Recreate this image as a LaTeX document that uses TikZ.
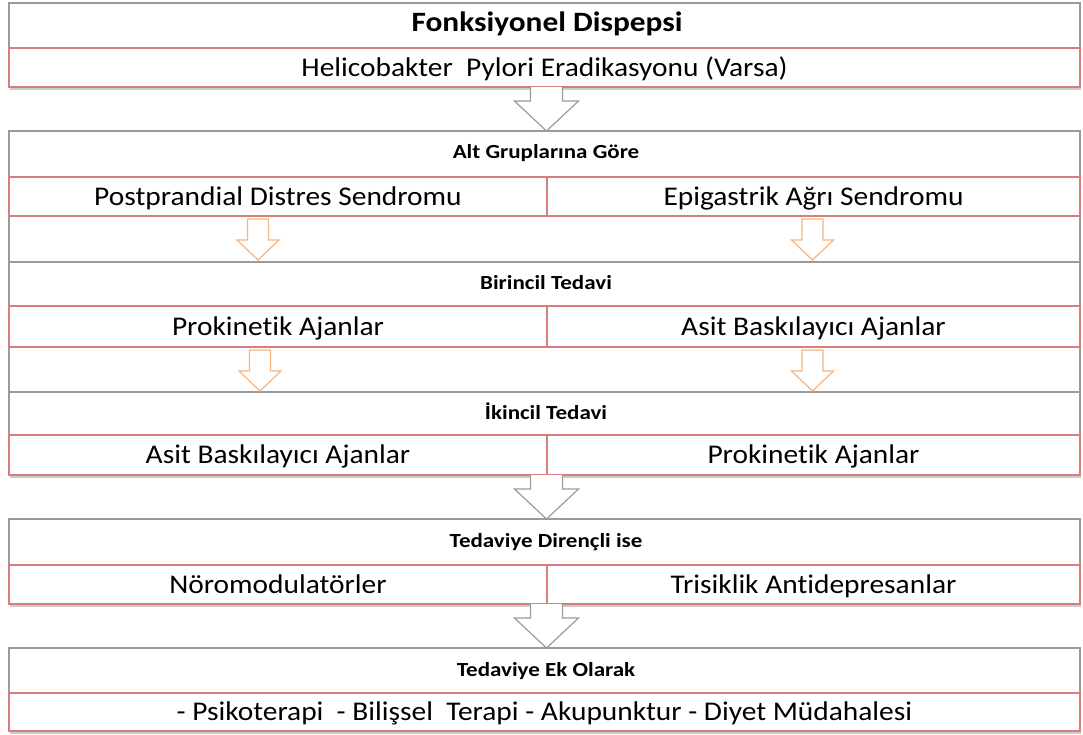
\documentclass[tikz,border=0pt]{standalone}
\usepackage{fontspec}
\setmainfont{Carlito}[FakeStretch=1.09,Ligatures=NoCommon]
\newfontfamily\baslikfont{Carlito}[FakeStretch=1.12,Ligatures=NoCommon]
\newfontfamily\altbaslikfont{Carlito}[FakeStretch=1.15,Ligatures=NoCommon]
\usetikzlibrary{shadows}
\definecolor{kutugri}{RGB}{155,155,155}
\definecolor{satirkirmizi}{RGB}{215,125,125}
\definecolor{oklturuncu}{RGB}{250,180,125}
\begin{document}
\begin{tikzpicture}[x=1pt,y=-1pt]

    \tikzset{
      kutu/.style={
        draw=kutugri,
        line width=1.6pt,
        fill=white,
        anchor=north west,
        inner sep=0pt,
        outer sep=0pt,
        minimum width=1071pt,
        drop shadow={shadow xshift=1pt,shadow yshift=-2.5pt,opacity=0.4},
      },
      satir/.style={
        draw=satirkirmizi,
        line width=1.3pt,
        anchor=north west,
        inner sep=0pt,
        outer sep=0pt,
        text height=17.5pt,
        text depth=0pt,
        font=\fontsize{27}{30}\selectfont,
      },
      tam/.style={satir,minimum width=1071pt},
      yarimsol/.style={satir,minimum width=538pt},
      yarimsag/.style={satir,minimum width=533pt},
      baslik/.style={
        inner sep=0pt,
        text height=13pt,
        text depth=0pt,
        font=\altbaslikfont\fontsize{20}{22}\selectfont\bfseries,
      },
      buyukok/.pic={
        \draw[kutugri,line width=1.2pt,fill=white,line join=miter]
          (-16,0) -- (-16,14) -- (-32,14) -- (0,44) -- (32,14) -- (16,14) -- (16,0);
      },
      kucukok/.pic={
        \draw[oklturuncu,line width=1.2pt,fill=white]
          (-10.5,0) -- (-10.5,21) -- (-21,21) -- (0,41) -- (21,21) -- (10.5,21) -- (10.5,0) -- cycle;
      },
    }
    \useasboundingbox (0,0) rectangle (1083,734);

	\node[kutu,minimum height=84pt] (kutuA) at (9,3) {};
	\node[baslik,text height=18pt,font=\baslikfont\fontsize{28}{30}\selectfont\bfseries] (fd) at (547,22) {Fonksiyonel Dispepsi};
	\node[tam,minimum height=39pt] (hp) at (9,48) {Helicobakter~~Pylori Eradikasyonu (Varsa)};

	\node[kutu,minimum height=131pt] (kutuB) at (9,131) {};
	\node[baslik] (alt) at (546,152) {Alt Gruplarına Göre};
	\node[yarimsol,minimum height=39pt] (pds) at (9,177) {Postprandial Distres Sendromu};
	\node[yarimsag,minimum height=39pt] (eas) at (547,177) {Epigastrik Ağrı Sendromu};

	\node[kutu,minimum height=130pt] (kutuC) at (9,262) {};
	\node[baslik] (birincil) at (546,283) {Birincil Tedavi};
	\node[yarimsol,minimum height=41pt] (prokA) at (9,306) {Prokinetik Ajanlar};
	\node[yarimsag,minimum height=41pt] (asitA) at (547,306) {Asit Baskılayıcı Ajanlar};

	\node[kutu,minimum height=83pt] (kutuD) at (9,392) {};
	\node[baslik] (ikincil) at (546,413) {İkincil Tedavi};
	\node[yarimsol,minimum height=40pt] (asitB) at (9,435) {Asit Baskılayıcı Ajanlar};
	\node[yarimsag,minimum height=40pt] (prokB) at (547,435) {Prokinetik Ajanlar};

	\node[kutu,minimum height=85pt] (kutuE) at (9,519) {};
	\node[baslik] (direncli) at (546,541) {Tedaviye Dirençli ise};
	\node[yarimsol,minimum height=39pt] (noro) at (9,565) {Nöromodulatörler};
	\node[yarimsag,minimum height=39pt] (tsa) at (547,565) {Trisiklik Antidepresanlar};

	\node[kutu,minimum height=83pt] (kutuF) at (9,648) {};
	\node[baslik] (ek) at (546,670) {Tedaviye Ek Olarak};
	\node[tam,minimum height=38pt] (yontem) at (9,693) {- Psikoterapi~~- Bilişsel~~Terapi - Akupunktur - Diyet Müdahalesi};

	\pic at ([xshift=2pt]hp.south) {buyukok};
	\pic at ([xshift=-20pt,yshift=-3pt]pds.south) {kucukok};
	\pic at ([xshift=-1pt,yshift=-3pt]eas.south) {kucukok};
	\pic at ([xshift=-18pt,yshift=-3pt]prokA.south) {kucukok};
	\pic at ([xshift=-1pt,yshift=-3pt]asitA.south) {kucukok};
	\pic at ([xshift=2pt]kutuD.south) {buyukok};
	\pic at ([xshift=2pt]kutuE.south) {buyukok};

\end{tikzpicture}
\end{document}
